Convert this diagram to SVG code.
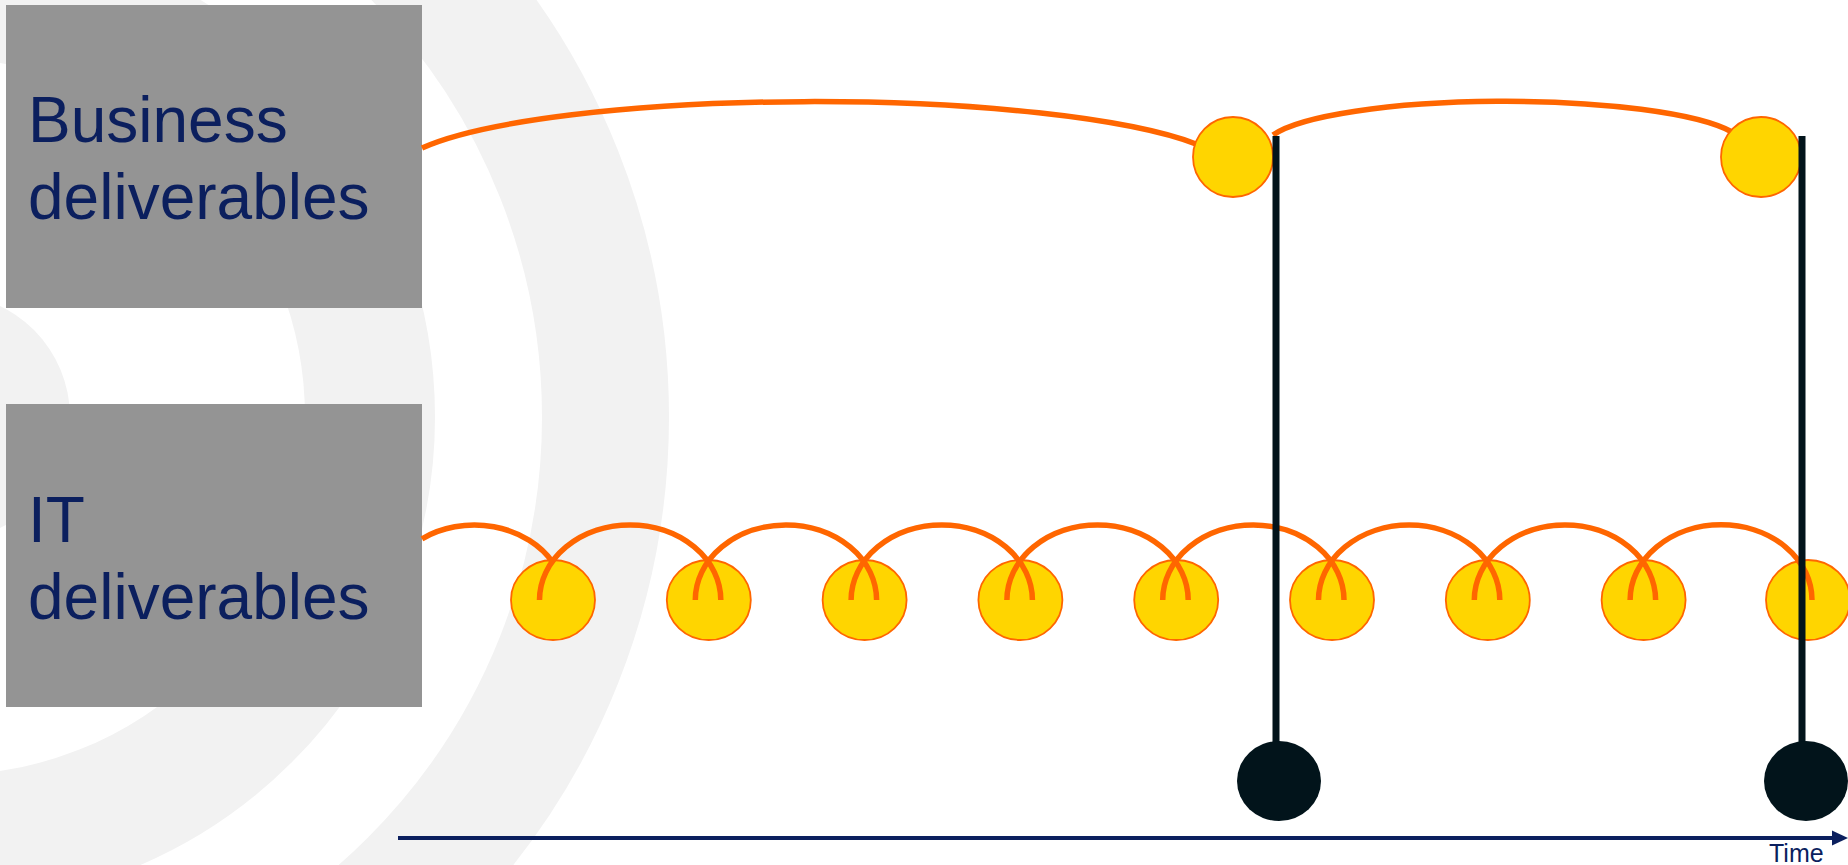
<svg xmlns="http://www.w3.org/2000/svg" width="1848" height="865" viewBox="0 0 1848 865">
  <style>
    .bg { fill: none; stroke: #F2F2F2; }
    .box { fill: #949494; }
    .lbl { font-family: "Liberation Sans", Arial, sans-serif; font-size: 64px; fill: #0B1F5E; }
    .flow { fill: none; stroke: #FF6600; stroke-width: 5.5; }
    .dot { fill: #FFD500; stroke: #FF6600; stroke-width: 1.8; }
    .pole { stroke: #02141B; stroke-width: 7; }
    .ms { fill: #02141B; }
  </style>
  <rect width="1848" height="865" fill="#FFFFFF"/>
  <g id="background">
    <circle cx="-53" cy="417" r="123" fill="#F2F2F2"/>
    <circle class="bg" cx="-53" cy="417" r="423" stroke-width="130"/>
    <circle class="bg" cx="-53" cy="417" r="658.5" stroke-width="127"/>
  </g>
  <g id="business-box">
    <rect class="box" x="6" y="5" width="416" height="303"/>
    <text class="lbl" x="28" y="141.5">Business</text>
    <text class="lbl" x="28" y="219">deliverables</text>
  </g>
  <g id="it-box">
    <rect class="box" x="6" y="404" width="416" height="303"/>
    <text class="lbl" x="28" y="541.5">IT</text>
    <text class="lbl" x="28" y="619">deliverables</text>
  </g>
  <g id="connectors">
    <path class="flow" d="M 422 148 A 420 72.4 0 0 1 1198 144.7"/>
    <path class="flow" d="M 1273 135 A 240 45.4 0 0 1 1732 132"/>
  </g>
  <g id="business-milestone-1"><circle class="dot" cx="1233" cy="157" r="40"/></g>
  <g id="business-milestone-2"><circle class="dot" cx="1761" cy="157" r="40"/></g>
  <g id="it-deliverables">
    <ellipse class="dot" cx="553" cy="600" rx="42" ry="40"/>
    <ellipse class="dot" cx="708.8" cy="600" rx="42" ry="40"/>
    <ellipse class="dot" cx="864.6" cy="600" rx="42" ry="40"/>
    <ellipse class="dot" cx="1020.4" cy="600" rx="42" ry="40"/>
    <ellipse class="dot" cx="1176.2" cy="600" rx="42" ry="40"/>
    <ellipse class="dot" cx="1332" cy="600" rx="42" ry="40"/>
    <ellipse class="dot" cx="1487.8" cy="600" rx="42" ry="40"/>
    <ellipse class="dot" cx="1643.6" cy="600" rx="42" ry="40"/>
    <ellipse class="dot" cx="1808" cy="600" rx="42" ry="40"/>
  </g>
  <g id="it-connectors">
    <path class="flow" d="M 422 538.8 A 90.7 75 0 0 1 553 562.6"/>
    <path class="flow" d="M 539.5 600 A 90 74.5 0 0 1 720.8 600"/>
    <path class="flow" d="M 695.3 600 A 90 74.5 0 0 1 876.6 600"/>
    <path class="flow" d="M 851.1 600 A 90 74.5 0 0 1 1032.4 600"/>
    <path class="flow" d="M 1006.9 600 A 90 74.5 0 0 1 1188.2 600"/>
    <path class="flow" d="M 1162.7 600 A 90 74.5 0 0 1 1344 600"/>
    <path class="flow" d="M 1318.5 600 A 90 74.5 0 0 1 1499.8 600"/>
    <path class="flow" d="M 1474.3 600 A 90 74.5 0 0 1 1655.6 600"/>
    <path class="flow" d="M 1630.1 600 A 90 74.5 0 0 1 1812 600"/>
  </g>
  <g id="release-1">
    <line class="pole" x1="1276" y1="136" x2="1276" y2="750"/>
    <ellipse class="ms" cx="1279" cy="781" rx="42" ry="40"/>
  </g>
  <g id="release-2">
    <line class="pole" x1="1802" y1="136" x2="1802" y2="750"/>
    <ellipse class="ms" cx="1806" cy="781" rx="42" ry="40"/>
  </g>
  <g id="time-axis">
    <line x1="398" y1="838" x2="1834" y2="838" stroke="#0B1F5E" stroke-width="4"/>
    <polygon points="1832,830.5 1848,838 1832,845.5" fill="#0B1F5E"/>
    <text x="1769" y="862" font-family="Liberation Sans, Arial, sans-serif" font-size="25" fill="#0B1F5E">Time</text>
  </g>
</svg>
